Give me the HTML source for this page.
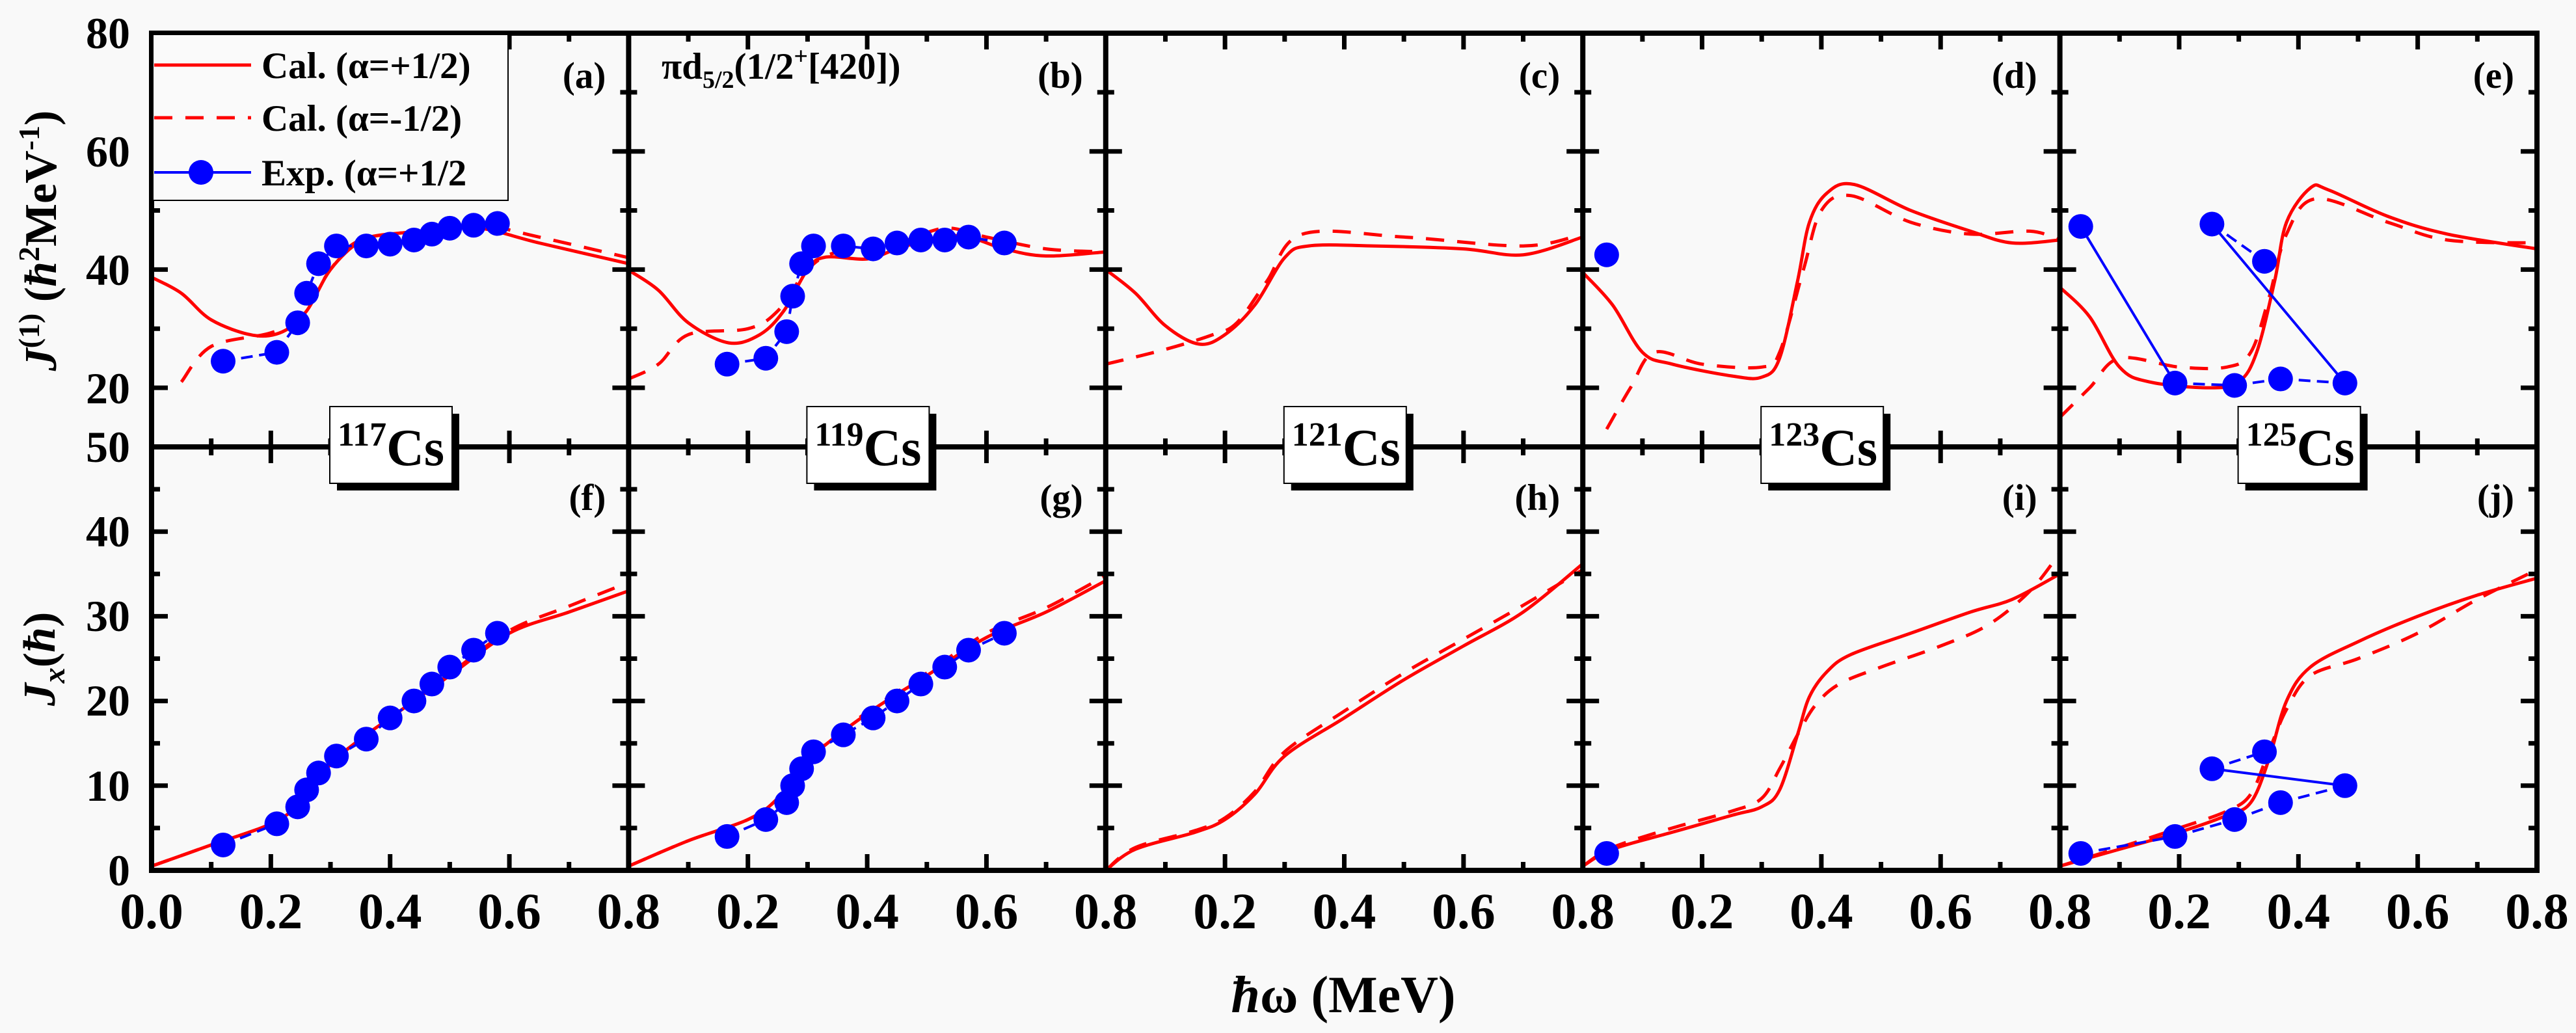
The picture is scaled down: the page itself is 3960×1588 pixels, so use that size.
<!DOCTYPE html>
<html><head><meta charset="utf-8">
<style>
html,body{margin:0;padding:0;background:#f9f9f9;}
svg{display:block;}
text{font-family:"Liberation Serif",serif;font-weight:bold;fill:#000;}
</style></head>
<body>
<svg id="s" width="3960" height="1588" viewBox="0 0 3960 1588" xmlns="http://www.w3.org/2000/svg">
<rect x="0" y="0" width="3960" height="1588" fill="#f9f9f9"/>
<g id="curves"></g>
<g id="axes"></g>
<g id="txt">
<g font-size="68" text-anchor="end">
<text x="200" y="74">80</text>
<text x="200" y="256">60</text>
<text x="200" y="438">40</text>
<text x="200" y="620">20</text>
<text x="200" y="710">50</text>
<text x="200" y="840">40</text>
<text x="200" y="970">30</text>
<text x="200" y="1100">20</text>
<text x="200" y="1231">10</text>
<text x="200" y="1361">0</text>
</g>
<g font-size="78" text-anchor="middle">
<text x="233" y="1427">0.0</text>
</g>
<g id="xl" font-size="78" text-anchor="middle"></g>
<text x="2065" y="1556" font-size="80" text-anchor="middle"><tspan font-style="italic">ħ</tspan>ω (MeV)</text>
<text transform="translate(86,370) rotate(-90)" font-size="70" text-anchor="middle"><tspan font-style="italic">J</tspan><tspan font-size="46" dy="-26">(1)</tspan><tspan dy="26"> (</tspan><tspan font-style="italic">ħ</tspan><tspan font-size="46" dy="-26">2</tspan><tspan dy="26">MeV</tspan><tspan font-size="46" dy="-26">-1</tspan><tspan dy="26">)</tspan></text>
<text transform="translate(84,1013) rotate(-90)" font-size="70" text-anchor="middle"><tspan font-style="italic">J</tspan><tspan font-style="italic" font-size="48" dy="15">x</tspan><tspan dy="-15">(</tspan><tspan font-style="italic">ħ</tspan>)</text>
<rect x="235" y="53" width="546" height="255" fill="#fafafa" stroke="#000" stroke-width="2"/>
<line x1="237" y1="100" x2="386" y2="100" stroke="#ff0000" stroke-width="5"/>
<line x1="237" y1="181" x2="386" y2="181" stroke="#ff0000" stroke-width="5" stroke-dasharray="28,20"/>
<line x1="237" y1="265" x2="386" y2="265" stroke="#0000ff" stroke-width="4"/>
<circle cx="309" cy="265" r="19" fill="#0000ff"/>
<g font-size="57">
<text x="402" y="120">Cal. (α=+1/2)</text>
<text x="402" y="201">Cal. (α=-1/2)</text>
<text x="402" y="285">Exp. (α=+1/2</text>
<text x="1017" y="121">πd<tspan font-size="38" dy="14">5/2</tspan><tspan dy="-14">(1/2</tspan><tspan font-size="38" dy="-22">+</tspan><tspan dy="22">[420])</tspan></text>
</g>
<g id="pl" font-size="57" text-anchor="end"></g>
<g id="nuc"></g>
</g>
</svg>
<script>
(function(){
const NS="http://www.w3.org/2000/svg";
const W=733.4, L=[0,1,2,3,4].map(i=>233+i*W);
const yT=v=>687-(v-10)*9.086, yB=v=>1338-v*13.02;
const px=(i,x)=>L[i]+x/0.8*W;
function el(t,a,p){const e=document.createElementNS(NS,t);for(const k in a)e.setAttribute(k,a[k]);p.appendChild(e);return e;}
function smooth(pts){
  let d="M"+pts[0][0].toFixed(1)+","+pts[0][1].toFixed(1);
  for(let k=0;k<pts.length-1;k++){
    const p0=pts[k-1]||pts[k],p1=pts[k],p2=pts[k+1],p3=pts[k+2]||p2;
    const c1=[p1[0]+(p2[0]-p0[0])/6,p1[1]+(p2[1]-p0[1])/6];
    const c2=[p2[0]-(p3[0]-p1[0])/6,p2[1]-(p3[1]-p1[1])/6];
    d+=" C"+c1[0].toFixed(1)+","+c1[1].toFixed(1)+" "+c2[0].toFixed(1)+","+c2[1].toFixed(1)+" "+p2[0].toFixed(1)+","+p2[1].toFixed(1);
  }
  return d;
}
const TOPD={
 a:{s:[[0,38.7],[0.05,36],[0.1,31.5],[0.17,28.9],[0.22,29.5],[0.26,33],[0.3,40],[0.35,44.8],[0.4,46],[0.47,46.5],[0.55,47],[0.65,44.5],[0.8,41]],
    d:[[0.05,21],[0.1,27],[0.2,29.3],[0.25,32],[0.3,40],[0.35,45],[0.45,46.5],[0.55,47.5],[0.65,45.5],[0.8,42]],
    e:[[0.12,24.5],[0.21,26],[0.245,31],[0.26,36],[0.28,41],[0.31,44],[0.36,44],[0.4,44.3],[0.44,45],[0.47,46],[0.5,47],[0.54,47.5],[0.58,47.8]]},
 b:{s:[[0,39.9],[0.05,36.5],[0.1,31],[0.168,27.6],[0.22,29],[0.26,33],[0.3,40],[0.33,42.1],[0.4,41.8],[0.45,43.5],[0.52,45.5],[0.57,45.5],[0.63,43.5],[0.7,42.3],[0.8,43]],
    d:[[0,21.5],[0.05,24],[0.1,29],[0.2,30],[0.25,33],[0.3,40],[0.35,43],[0.45,44.5],[0.53,47],[0.6,45.5],[0.7,43.5],[0.8,43]],
    e:[[0.165,24],[0.23,25],[0.265,29.5],[0.275,35.5],[0.29,41],[0.31,44],[0.36,44],[0.41,43.5],[0.45,44.5],[0.49,45],[0.53,45],[0.57,45.5],[0.63,44.5]]},
 c:{s:[[0,40],[0.05,36],[0.1,30.5],[0.156,27.4],[0.2,29],[0.25,34],[0.3,42],[0.34,44],[0.45,44],[0.6,43.5],[0.7,42.5],[0.8,45.5]],
    d:[[0,24],[0.1,26.5],[0.18,29],[0.22,31],[0.27,38],[0.33,46],[0.5,45.5],[0.7,44],[0.8,46]],e:[]},
 d:{s:[[0,39.5],[0.05,34],[0.1,26],[0.15,24],[0.25,22],[0.3,21.8],[0.33,25],[0.36,38],[0.38,48],[0.41,53],[0.455,54.4],[0.55,50],[0.65,46.5],[0.72,44.5],[0.8,45]],
    d:[[0.04,13],[0.08,20],[0.12,26],[0.2,24],[0.3,23.5],[0.33,26],[0.37,40],[0.4,50],[0.45,52.5],[0.55,48],[0.65,46],[0.75,46.5],[0.8,45]],
    e:[[0.04,42.5]]},
 e:{s:[[0,37],[0.05,32],[0.1,23.5],[0.15,21],[0.25,20],[0.3,21],[0.33,26],[0.36,38],[0.38,48],[0.42,53.8],[0.45,53.5],[0.55,49],[0.65,46],[0.8,43.5]],
    d:[[0,15],[0.05,20],[0.1,25],[0.2,23.5],[0.28,23.5],[0.32,26],[0.35,35],[0.38,46],[0.43,52],[0.55,48],[0.65,45],[0.8,44.5]],e:[]}
};
const BOTD={
 f:{s:[[0,0.5],[0.1,3],[0.2,5.5],[0.25,8],[0.3,12.5],[0.35,15.5],[0.4,18],[0.5,23],[0.6,28],[0.7,30.5],[0.8,33]],
    d:[[0,0.5],[0.1,3],[0.2,5.5],[0.25,8],[0.3,12.5],[0.35,15.5],[0.4,18],[0.5,23.2],[0.6,28.3],[0.7,31.2],[0.8,34]],
    e:[[0.12,3],[0.21,5.5],[0.245,7.5],[0.26,9.5],[0.28,11.5],[0.31,13.5],[0.36,15.5],[0.4,18],[0.44,20],[0.47,22],[0.5,24],[0.54,26],[0.58,28]]},
 g:{s:[[0,0.5],[0.1,3.5],[0.2,6],[0.25,8.5],[0.3,13],[0.4,18.5],[0.5,23],[0.6,27.5],[0.7,30.5],[0.8,34.2]],
    d:[[0,0.5],[0.1,3.5],[0.2,6],[0.25,8.5],[0.3,13],[0.4,18.7],[0.5,23.3],[0.6,28],[0.7,31],[0.8,34.8]],
    e:[[0.165,4],[0.23,6],[0.265,8],[0.275,10],[0.29,12],[0.31,14],[0.36,16],[0.41,18],[0.45,20],[0.49,22],[0.53,24],[0.57,26],[0.63,28]]},
 h:{s:[[0,0],[0.05,2.5],[0.15,4.5],[0.2,6],[0.25,9],[0.3,13.5],[0.4,18],[0.5,22.5],[0.6,26.5],[0.7,30.5],[0.8,36.2]],
    d:[[0,0],[0.05,2.7],[0.15,4.7],[0.2,6.2],[0.25,9.3],[0.3,14],[0.4,18.8],[0.5,23.3],[0.6,27.3],[0.7,31.3],[0.8,35.5]],e:[]},
 i:{s:[[0,0.5],[0.05,2.5],[0.15,4.5],[0.25,6.5],[0.3,7.5],[0.33,9.5],[0.36,16],[0.38,20.5],[0.41,23.5],[0.45,25.5],[0.55,28],[0.65,30.5],[0.72,32],[0.8,35]],
    d:[[0,0.5],[0.05,2.7],[0.15,5],[0.25,7],[0.3,8.5],[0.33,12],[0.36,16],[0.39,19.5],[0.43,22],[0.5,24],[0.6,26.5],[0.68,29],[0.75,33],[0.8,37.5]],
    e:[[0.04,2]]},
 j:{s:[[0,0.5],[0.1,2.5],[0.2,4.5],[0.28,6.5],[0.32,8],[0.35,13],[0.38,20],[0.42,24],[0.5,27],[0.6,30],[0.7,32.5],[0.8,34.5]],
    d:[[0,0.5],[0.1,2.7],[0.2,5],[0.28,7],[0.32,9],[0.35,14],[0.38,19],[0.42,23],[0.5,25],[0.6,28],[0.7,32],[0.8,35.5]],e:[]}
};
const cg=document.getElementById("curves");
const defs=el("defs",{},cg);
for(let i=0;i<5;i++){
  const c1=el("clipPath",{id:"ct"+i},defs);el("rect",{x:L[i],y:51,width:W,height:636},c1);
  const c2=el("clipPath",{id:"cb"+i},defs);el("rect",{x:L[i],y:687,width:W,height:651},c2);
}
const RED="#ff0000",BLUE="#0000ff";
function drawSet(i,set,yf,clip){
  const g=el("g",{"clip-path":"url(#"+clip+i+")"},cg);
  const m=p=>[px(i,p[0]),yf(p[1])];
  el("path",{d:smooth(set.d.map(m)),fill:"none",stroke:RED,"stroke-width":5,"stroke-dasharray":"28,20"},g);
  el("path",{d:smooth(set.s.map(m)),fill:"none",stroke:RED,"stroke-width":5},g);
  if(set.e.length>1){el("polyline",{points:set.e.map(m).map(p=>p.join(",")).join(" "),fill:"none",stroke:BLUE,"stroke-width":4,"stroke-dasharray":"18,10"},g);}
  return g;
}
const tk=["a","b","c","d","e"],bk=["f","g","h","i","j"];
for(let i=0;i<5;i++){
  const g1=drawSet(i,TOPD[tk[i]],yT,"ct");
  const g2=drawSet(i,BOTD[bk[i]],yB,"cb");
  if(i==4){
    const m=p=>[px(4,p[0]),yT(p[1])];
    const q=[[0.035,47.3],[0.193,20.8],[0.293,20.4],[0.37,21.5],[0.478,20.8],[0.255,47.7],[0.343,41.4]].map(m);
    const ln=(a,b,dash)=>el("line",{x1:q[a][0],y1:q[a][1],x2:q[b][0],y2:q[b][1],stroke:BLUE,"stroke-width":4,"stroke-dasharray":dash?"18,10":"none"},g1);
    ln(0,1,0);ln(1,2,1);ln(2,3,1);ln(3,4,1);ln(5,6,1);ln(5,4,0);
    q.forEach(p=>el("circle",{cx:p[0],cy:p[1],r:19,fill:BLUE},g1));
    const mb=p=>[px(4,p[0]),yB(p[1])];
    const F=[[0.035,2],[0.193,4],[0.293,6],[0.37,8],[0.478,10],[0.255,12],[0.343,14]].map(mb);
    const lb=(a,b,dash)=>el("line",{x1:F[a][0],y1:F[a][1],x2:F[b][0],y2:F[b][1],stroke:BLUE,"stroke-width":4,"stroke-dasharray":dash?"18,10":"none"},g2);
    lb(0,1,1);lb(1,2,1);lb(2,3,1);lb(3,4,1);lb(5,6,1);lb(5,4,0);
    F.forEach(p=>el("circle",{cx:p[0],cy:p[1],r:19,fill:BLUE},g2));
  } else {
    TOPD[tk[i]].e.forEach(p=>el("circle",{cx:px(i,p[0]),cy:yT(p[1]),r:19,fill:BLUE},g1));
    BOTD[bk[i]].e.forEach(p=>el("circle",{cx:px(i,p[0]),cy:yB(p[1]),r:19,fill:BLUE},g2));
  }
}
const ag=document.getElementById("axes");
const line=(x1,y1,x2,y2,w)=>el("line",{x1:x1,y1:y1,x2:x2,y2:y2,stroke:"#000","stroke-width":w},ag);
for(let i=0;i<5;i++){
  for(let k=1;k<8;k++){
    const x=px(i,k*0.1), maj=k%2==0, len=maj?25:13;
    line(x,51,x,51+len,7); line(x,687-len,x,687+len,7); line(x,1338,x,1338-len,7);
  }
}
for(let i=0;i<=5;i++){
  const x=233+i*W;
  for(let v=20;v<=70;v+=10){const y=yT(v),len=(v%20==0)?25:13;line(x-(i>0?len:0),y,x+(i<5?len:0),y,7);}
  for(let v=5;v<=45;v+=5){const y=yB(v),len=(v%10==0)?25:13;line(x-(i>0?len:0),y,x+(i<5?len:0),y,7);}
  line(x,47,x,1342,8);
}
line(229,51,3904,51,8);line(229,687,3904,687,8);line(229,1338,3904,1338,8);
const xl=document.getElementById("xl");
for(let i=0;i<5;i++){["0.2","0.4","0.6","0.8"].forEach((t,k)=>{const e=el("text",{x:px(i,(k+1)*0.2),y:1427},xl);e.textContent=t;});}
const pl=document.getElementById("pl");
tk.forEach((t,i)=>{const e=el("text",{x:L[i]+W-35,y:135},pl);e.textContent="("+t+")";});
bk.forEach((t,i)=>{const e=el("text",{x:L[i]+W-35,y:784},pl);e.textContent="("+t+")";});
const ng=document.getElementById("nuc");
["117","119","121","123","125"].forEach((n,i)=>{
  const x=L[i]+274;
  el("rect",{x:x+11,y:636,width:188,height:118,fill:"#000"},ng);
  el("rect",{x:x,y:625,width:188,height:118,fill:"#fff",stroke:"#000","stroke-width":2},ng);
  const t=el("text",{x:x+12,y:715},ng);
  const a=el("tspan",{"font-size":"52",dy:"-30"},t);a.textContent=n;
  const b=el("tspan",{"font-size":"80",dy:"30"},t);b.textContent="Cs";
});
})();
</script>
</body></html>
